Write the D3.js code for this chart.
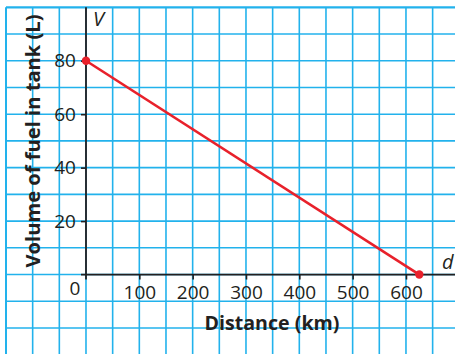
<!DOCTYPE html>
<html><head><meta charset="utf-8">
<script src="https://cdn.jsdelivr.net/npm/d3@7"></script>
<style>body{margin:0;background:#fff}svg{display:block}text{font-family:"Open Sans",sans-serif;fill:#231f20}</style>
</head><body>
<script>
const distance = [0, 625];
const volume = [80, 0];
const xTicks = [100, 200, 300, 400, 500, 600];
const yTicks = [20, 40, 60, 80];
const xGrid = d3.range(-150, 701, 50);
const yGrid = d3.range(-30, 101, 10);
const xTitle = "Distance (km)";
const yTitle = "Volume of fuel in tank (L)";

const W = 455, H = 354;
const svg = d3.select("body").append("svg").attr("width", W).attr("height", H);
const x = d3.scaleLinear().domain([-150, 700]).range([6, 459.3]);
const y = d3.scaleLinear().domain([-30, 100]).range([354.7, 7.3]);
const grid = "#22b2ec";

svg.append("g").selectAll("line").data(xGrid).join("line")
  .attr("x1", d => x(d)).attr("x2", d => x(d)).attr("y1", y(100)).attr("y2", H)
  .attr("stroke", grid).attr("stroke-width", d => d === -150 ? 2 : 1.6);
svg.append("g").selectAll("line").data(yGrid).join("line")
  .attr("y1", d => y(d)).attr("y2", d => y(d)).attr("x1", x(-150)).attr("x2", W)
  .attr("stroke", grid).attr("stroke-width", d => d === 100 ? 2.2 : 1.6);

const ax = "#231f20";
svg.append("line").attr("x1", x(0)).attr("x2", x(0)).attr("y1", y(100)).attr("y2", y(0) + 5)
  .attr("stroke", ax).attr("stroke-width", 1.8);
svg.append("line").attr("x1", x(0) - 5).attr("x2", W).attr("y1", y(0)).attr("y2", y(0))
  .attr("stroke", ax).attr("stroke-width", 1.8);

const xAxis = d3.axisBottom(x).tickValues(xTicks).tickSize(5).tickPadding(6);
const gx = svg.append("g").attr("transform", `translate(0,${y(0)})`).call(xAxis);
gx.select(".domain").remove();
gx.selectAll(".tick line").attr("stroke", ax).attr("stroke-width", 1.6);
gx.selectAll(".tick text").attr("font-size", 19).attr("fill", ax).style("font-family", '"Open Sans",sans-serif');

const yAxis = d3.axisLeft(y).tickValues(yTicks).tickSize(5).tickPadding(5);
const gy = svg.append("g").attr("transform", `translate(${x(0)},0)`).call(yAxis);
gy.select(".domain").remove();
gy.selectAll(".tick line").attr("stroke", ax).attr("stroke-width", 1.6);
gy.selectAll(".tick text").attr("font-size", 19).attr("fill", ax).style("font-family", '"Open Sans",sans-serif');

svg.append("text").attr("x", x(0) - 11).attr("y", y(0) + 20).attr("text-anchor", "middle")
  .attr("font-size", 19).text("0");
svg.append("text").attr("x", x(0) + 7).attr("y", y(100) + 19).attr("font-size", 20)
  .attr("font-style", "italic").text("V");
svg.append("text").attr("x", 442).attr("y", y(0) - 6).attr("font-size", 20)
  .attr("font-style", "italic").text("d");

svg.append("text").attr("x", 272).attr("y", 330).attr("text-anchor", "middle")
  .attr("font-size", 19.5).attr("font-weight", "bold")
  .attr("textLength", 135).attr("lengthAdjust", "spacingAndGlyphs").text(xTitle);
svg.append("text").attr("transform", "translate(40,141) rotate(-90)").attr("text-anchor", "middle")
  .attr("font-size", 19.5).attr("font-weight", "bold")
  .attr("textLength", 253).attr("lengthAdjust", "spacingAndGlyphs").text(yTitle);

const pts = distance.map((d, i) => [d, volume[i]]);
svg.append("path").datum(pts)
  .attr("d", d3.line().x(d => x(d[0])).y(d => y(d[1])))
  .attr("fill", "none").attr("stroke", "#e8212b").attr("stroke-width", 2.6);
svg.append("g").selectAll("circle").data(pts).join("circle")
  .attr("cx", d => x(d[0])).attr("cy", d => y(d[1])).attr("r", 4.2).attr("fill", "#e8212b");
</script>
</body></html>
